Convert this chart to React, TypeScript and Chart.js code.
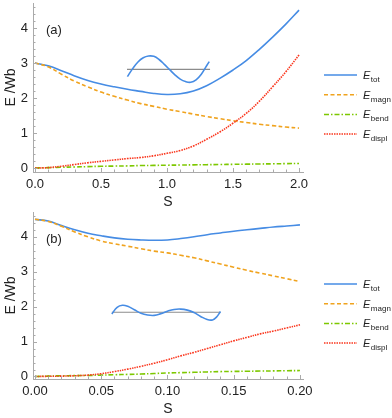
import React, { useEffect, useRef } from "react";
import { Chart, registerables } from "chart.js";

Chart.register(...registerables);

// ---------- Panel (a) data ----------
const sA = [0, 0.1, 0.2, 0.3, 0.4, 0.5, 0.6, 0.7, 0.8, 0.9, 1.0, 1.1, 1.2, 1.3, 1.4, 1.5, 1.6, 1.7, 1.8, 1.9, 2.0];
const totA = [3.0, 2.92, 2.78, 2.63, 2.5, 2.4, 2.32, 2.25, 2.19, 2.13, 2.1, 2.12, 2.2, 2.35, 2.56, 2.8, 3.07, 3.39, 3.74, 4.11, 4.51];
const magnA = [3.0, 2.89, 2.68, 2.48, 2.32, 2.17, 2.05, 1.94, 1.84, 1.76, 1.68, 1.61, 1.54, 1.47, 1.41, 1.35, 1.3, 1.25, 1.21, 1.17, 1.14];
const bendA = [0, 0.01, 0.02, 0.03, 0.04, 0.05, 0.055, 0.06, 0.07, 0.075, 0.08, 0.085, 0.09, 0.095, 0.1, 0.105, 0.11, 0.115, 0.12, 0.125, 0.13];
const displA = [0, 0.01, 0.05, 0.1, 0.15, 0.19, 0.23, 0.27, 0.3, 0.35, 0.42, 0.5, 0.63, 0.82, 1.03, 1.28, 1.56, 1.91, 2.32, 2.75, 3.23];

// inset (a): rest line and buckled shape
const insetLineSA = [0.697, 1.326];
const insetLineYA = [2.82, 2.82];
const insetWaveSA = [0.70, 0.74, 0.78, 0.82, 0.86, 0.90, 0.94, 0.98, 1.02, 1.06, 1.10, 1.14, 1.18, 1.22, 1.26, 1.30, 1.32];
const insetWaveYA = [2.61, 2.84, 3.03, 3.15, 3.20, 3.19, 3.10, 2.96, 2.81, 2.66, 2.54, 2.47, 2.45, 2.52, 2.68, 2.92, 3.04];

// ---------- Panel (b) data ----------
const sB = [0, 0.01, 0.02, 0.03, 0.04, 0.05, 0.06, 0.07, 0.08, 0.09, 0.1, 0.11, 0.12, 0.13, 0.14, 0.15, 0.16, 0.17, 0.18, 0.19, 0.2];
const totB = [4.5, 4.45, 4.32, 4.2, 4.1, 4.03, 3.97, 3.93, 3.91, 3.9, 3.91, 3.95, 4.0, 4.06, 4.11, 4.16, 4.2, 4.24, 4.28, 4.31, 4.34];
const magnB = [4.5, 4.44, 4.3, 4.14, 4.0, 3.88, 3.8, 3.73, 3.66, 3.59, 3.54, 3.47, 3.4, 3.31, 3.22, 3.13, 3.04, 2.96, 2.88, 2.8, 2.72];
const bendB = [0, 0.01, 0.02, 0.025, 0.03, 0.04, 0.05, 0.06, 0.07, 0.085, 0.1, 0.11, 0.12, 0.13, 0.14, 0.145, 0.15, 0.155, 0.16, 0.165, 0.17];
const displB = [0, 0.005, 0.01, 0.02, 0.04, 0.08, 0.14, 0.21, 0.29, 0.38, 0.48, 0.59, 0.69, 0.8, 0.91, 1.02, 1.12, 1.22, 1.3, 1.39, 1.48];

const insetLineSB = [0.058, 0.140];
const insetLineYB = [1.84, 1.84];
const insetWaveSB = [0.058, 0.062, 0.066, 0.070, 0.075, 0.080, 0.085, 0.090, 0.095, 0.100, 0.105, 0.110, 0.115, 0.120, 0.125, 0.130, 0.134, 0.137, 0.140];
const insetWaveYB = [1.79, 1.98, 2.04, 2.01, 1.91, 1.81, 1.76, 1.75, 1.80, 1.87, 1.92, 1.93, 1.90, 1.83, 1.72, 1.63, 1.62, 1.70, 1.86];

// ---------- Labels ----------
const seriesSubs = ["tot", "magn", "bend", "displ"];
const yTitle = "E /Wb";
const xTitle = "S";
const panelLabels = ["(a)", "(b)"];

const COLORS = ["rgb(70,140,228)", "rgb(240,163,30)", "rgb(125,200,0)", "rgb(250,55,30)"];
const DASHES: number[][] = [[], [4, 2.5], [5, 2, 1.5, 2], [1.5, 1]];
const FONT = '"Liberation Sans", Arial, sans-serif';

const pts = (xs: number[], ys: number[]) => xs.map((x, i) => ({ x, y: ys[i] }));

const decorPlugin = {
  id: "decor",
  afterDraw(chart: any, _args: any, opts: any) {
    const ctx = chart.ctx;
    const xs = chart.scales.x;
    const ys = chart.scales.y;
    const area = chart.chartArea;
    ctx.save();
    // tick marks (inside)
    ctx.strokeStyle = "rgb(170,170,170)";
    ctx.lineWidth = 1;
    const xMinor = opts.xMinor, xMajor = opts.xMajor;
    const nx = Math.round(opts.xEnd / xMinor);
    for (let i = 0; i <= nx; i++) {
      const v = i * xMinor;
      const px = Math.round(xs.getPixelForValue(v)) + 0.5;
      const major = Math.abs(v / xMajor - Math.round(v / xMajor)) < 1e-6;
      const len = major ? 4 : 2.5;
      ctx.beginPath();
      ctx.moveTo(px, area.bottom);
      ctx.lineTo(px, area.bottom - len);
      ctx.stroke();
    }
    const ny = Math.round(opts.yEnd / 0.2);
    for (let i = 0; i <= ny; i++) {
      const v = i * 0.2;
      const py = Math.round(ys.getPixelForValue(v)) + 0.5;
      const major = Math.abs(v - Math.round(v)) < 1e-6;
      const len = major ? 4 : 2.5;
      ctx.beginPath();
      ctx.moveTo(area.left, py);
      ctx.lineTo(area.left + len, py);
      ctx.stroke();
    }
    // panel label
    ctx.fillStyle = "#222";
    ctx.font = `13px ${FONT}`;
    ctx.textBaseline = "middle";
    ctx.textAlign = "left";
    ctx.fillText(opts.label, opts.labelX, opts.labelY);
    // legend
    const x0 = area.right + 21;
    const x1 = area.right + 54;
    seriesSubs.forEach((sub, i) => {
      const y = opts.legendTop + i * 19.7;
      ctx.strokeStyle = COLORS[i];
      ctx.lineWidth = 1.5;
      ctx.setLineDash(DASHES[i]);
      ctx.beginPath();
      ctx.moveTo(x0, y);
      ctx.lineTo(x1, y);
      ctx.stroke();
      ctx.setLineDash([]);
      ctx.fillStyle = "#222";
      ctx.font = `italic 11px ${FONT}`;
      ctx.textBaseline = "alphabetic";
      ctx.fillText("E", x1 + 6, y + 4);
      const w = ctx.measureText("E").width;
      ctx.font = `8px ${FONT}`;
      ctx.fillText(sub, x1 + 6 + w + 0.5, y + 7);
    });
    ctx.restore();
  },
};

type PanelProps = {
  top: number;
  padTop: number;
  s: number[];
  series: number[][];
  lineS: number[];
  lineY: number[];
  waveS: number[];
  waveY: number[];
  xMin: number;
  xMax: number;
  yMin: number;
  yMax: number;
  xStep: number;
  xMinor: number;
  xEnd: number;
  decimals: number;
  label: string;
  labelY: number;
  legendTop: number;
};

const H = 211;

function Panel(p: PanelProps) {
  const ref = useRef<HTMLCanvasElement | null>(null);
  useEffect(() => {
    if (!ref.current) return;
    const datasets: any[] = p.series.map((ys, i) => ({
      data: pts(p.s, ys),
      borderColor: COLORS[i],
      borderWidth: 1.6,
      borderDash: DASHES[i],
      pointRadius: 0,
      fill: false,
      tension: 0.4,
      order: 3 - i,
    }));
    datasets.push({
      data: pts(p.lineS, p.lineY),
      borderColor: "rgb(140,140,140)",
      borderWidth: 1.2,
      pointRadius: 0,
      fill: false,
      order: 5,
    });
    datasets.push({
      data: pts(p.waveS, p.waveY),
      borderColor: COLORS[0],
      borderWidth: 1.6,
      pointRadius: 0,
      fill: false,
      tension: 0.4,
      order: 4,
    });
    const chart = new Chart(ref.current, {
      type: "line",
      data: { datasets },
      plugins: [decorPlugin as any],
      options: {
        animation: false,
        responsive: false,
        layout: { padding: { top: p.padTop, right: 89, left: 0, bottom: 0 } },
        plugins: {
          legend: { display: false },
          tooltip: { enabled: false },
          decor: {
            xMinor: p.xMinor,
            xMajor: p.xStep,
            xEnd: p.xEnd,
            yEnd: 4.6,
            label: p.label,
            labelX: 46,
            labelY: p.labelY,
            legendTop: p.legendTop,
          },
        } as any,
        scales: {
          x: {
            type: "linear",
            min: p.xMin,
            max: p.xMax,
            grid: { display: false, drawTicks: false },
            border: { display: true, color: "rgb(170,170,170)", width: 1 },
            ticks: {
              stepSize: p.xStep,
              includeBounds: false,
              padding: 5,
              color: "#222",
              font: { family: FONT, size: 13 },
              maxRotation: 0,
              autoSkip: false,
              callback: (v: any) => Number(v).toFixed(p.decimals),
            },
            title: {
              display: true,
              text: xTitle,
              color: "#222",
              font: { family: FONT, size: 14 },
              padding: { top: 4, bottom: 0 },
            },
            afterFit: (sc: any) => {
              sc.height = H - 172;
              sc.paddingLeft = 0;
              sc.paddingRight = 0;
            },
          } as any,
          y: {
            type: "linear",
            min: p.yMin,
            max: p.yMax,
            grid: { display: false, drawTicks: false },
            border: { display: true, color: "rgb(170,170,170)", width: 1 },
            ticks: {
              stepSize: 1,
              includeBounds: false,
              padding: 5,
              color: "#222",
              font: { family: FONT, size: 13 },
              callback: (v: any) => String(Math.round(Number(v))),
            },
            title: {
              display: true,
              text: yTitle,
              color: "#222",
              font: { family: FONT, size: 14 },
              padding: { top: 3, bottom: 2 },
            },
            afterFit: (sc: any) => {
              sc.width = 33;
              sc.paddingTop = 0;
              sc.paddingBottom = 0;
            },
          } as any,
        },
      },
    });
    return () => chart.destroy();
  }, []);
  return (
    <canvas
      ref={ref}
      width={392}
      height={H}
      style={{ position: "absolute", left: 0, top: p.top, width: 392, height: H }}
    />
  );
}

export default function App() {
  return (
    <div style={{ position: "absolute", left: 0, top: 0, width: 392, height: 418, background: "#fff" }}>
      <Panel
        top={0}
        padTop={3}
        s={sA}
        series={[totA, magnA, bendA, displA]}
        lineS={insetLineSA}
        lineY={insetLineYA}
        waveS={insetWaveSA}
        waveY={insetWaveYA}
        xMin={-0.015}
        xMax={2.03}
        yMin={-0.114}
        yMax={4.714}
        xStep={0.5}
        xMinor={0.1}
        xEnd={2.0}
        decimals={1}
        label={panelLabels[0]}
        labelY={30}
        legendTop={75}
      />
      <Panel
        top={207}
        padTop={5}
        s={sB}
        series={[totB, magnB, bendB, displB]}
        lineS={insetLineSB}
        lineY={insetLineYB}
        waveS={insetWaveSB}
        waveY={insetWaveYB}
        xMin={-0.0015}
        xMax={0.2023}
        yMin={-0.072}
        yMax={4.71}
        xStep={0.05}
        xMinor={0.01}
        xEnd={0.2}
        decimals={2}
        label={panelLabels[1]}
        labelY={32}
        legendTop={77}
      />
    </div>
  );
}
